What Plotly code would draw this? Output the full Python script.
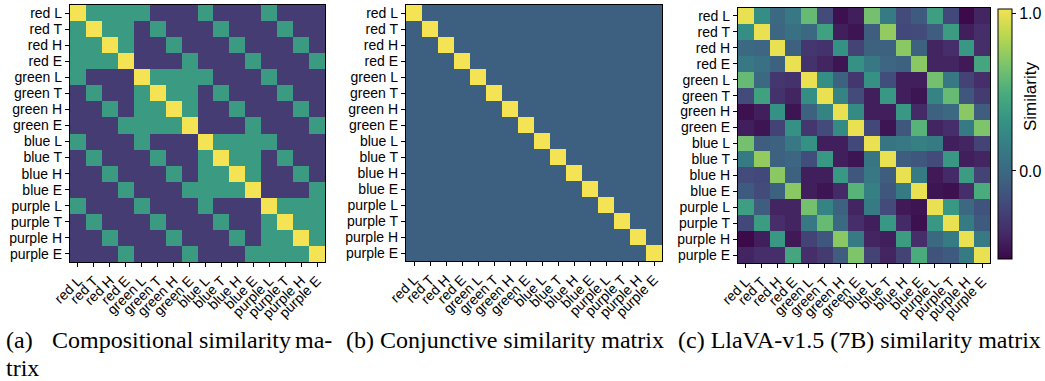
import plotly.graph_objects as go
from plotly.colors import sequential, hex_to_rgb

labels = [
    "red L", "red T", "red H", "red E",
    "green L", "green T", "green H", "green E",
    "blue L", "blue T", "blue H", "blue E",
    "purple L", "purple T", "purple H", "purple E",
]
colors = ["red", "green", "blue", "purple"]
attrs = ["L", "T", "H", "E"]

# similarity levels used by the two idealised matrices
same_item = 1.0
shared_part = 1 / 3
no_overlap = -1 / 3
conj_off = 0.0

# LlaVA-v1.5 (7B) measured similarities (rows/cols follow `labels`)
llava = [
    [1.00, 0.28, 0.00, 0.12, 0.60, -0.20, -0.52, -0.45, 0.65, 0.15, -0.20, -0.10, 0.40, -0.22, -0.55, -0.42],
    [0.28, 1.00, -0.02, 0.06, 0.00, 0.42, -0.45, -0.50, -0.08, 0.75, -0.22, -0.20, -0.08, 0.38, -0.45, -0.38],
    [0.00, -0.02, 1.00, -0.05, -0.33, -0.35, 0.30, -0.25, -0.05, -0.05, 0.72, -0.05, -0.42, -0.38, 0.35, -0.38],
    [0.12, 0.06, -0.05, 1.00, -0.35, -0.42, -0.50, 0.30, 0.12, -0.02, -0.05, 0.72, -0.42, -0.42, -0.48, 0.45],
    [0.60, 0.00, -0.33, -0.35, 1.00, 0.28, -0.05, -0.33, 0.30, -0.18, -0.45, -0.45, 0.65, 0.12, -0.25, -0.38],
    [-0.20, 0.42, -0.35, -0.42, 0.28, 1.00, 0.20, -0.20, -0.45, 0.35, -0.45, -0.50, 0.20, 0.60, -0.12, -0.30],
    [-0.52, -0.45, 0.30, -0.50, -0.05, 0.20, 1.00, 0.25, -0.45, -0.45, 0.35, -0.40, -0.05, 0.00, 0.72, -0.08],
    [-0.45, -0.50, -0.25, 0.30, -0.33, -0.20, 0.25, 1.00, -0.22, -0.50, -0.12, 0.55, -0.42, -0.38, 0.15, 0.68],
    [0.65, -0.08, -0.05, 0.12, 0.30, -0.45, -0.45, -0.22, 1.00, 0.10, 0.12, 0.18, 0.15, -0.45, -0.42, -0.25],
    [0.15, 0.75, -0.05, -0.02, -0.18, 0.35, -0.45, -0.50, 0.10, 1.00, -0.08, -0.12, -0.20, 0.35, -0.45, -0.42],
    [-0.20, -0.22, 0.72, -0.05, -0.45, -0.45, 0.35, -0.12, 0.12, -0.08, 1.00, 0.15, -0.48, -0.40, 0.38, -0.25],
    [-0.10, -0.20, -0.05, 0.72, -0.45, -0.50, -0.40, 0.55, 0.18, -0.12, 0.15, 1.00, -0.50, -0.52, -0.38, 0.50],
    [0.40, -0.08, -0.42, -0.42, 0.65, 0.20, -0.05, -0.42, 0.15, -0.20, -0.48, -0.50, 1.00, 0.35, 0.00, -0.15],
    [-0.22, 0.38, -0.38, -0.42, 0.12, 0.60, 0.00, -0.38, -0.45, 0.35, -0.40, -0.52, 0.35, 1.00, 0.15, -0.10],
    [-0.55, -0.45, 0.35, -0.48, -0.25, -0.12, 0.72, 0.15, -0.42, -0.45, 0.38, -0.38, 0.00, 0.15, 1.00, 0.15],
    [-0.42, -0.38, -0.38, 0.45, -0.38, -0.30, -0.08, 0.68, -0.25, -0.42, -0.25, 0.50, -0.15, -0.10, 0.15, 1.00],
]

caption_a_words = ["(a)", "Compositional", "similarity", "ma-"]
caption_a_tail = "trix"
caption_b = "(b) Conjunctive similarity matrix"
caption_c = "(c) LlaVA-v1.5 (7B) similarity matrix"
colorbar_title = "Similarity"

# colour limits per panel
ranges = [(-0.6, 1.0), (-0.45, 1.0), (-0.56, 1.03)]

# build the idealised matrices from the colour/attribute structure
items = [(c, a) for c in colors for a in attrs]
comp, conj = [], []
for ci, ai in items:
    row_c, row_j = [], []
    for cj, aj in items:
        if (ci, ai) == (cj, aj):
            row_c.append(same_item)
            row_j.append(same_item)
        elif ci == cj or ai == aj:
            row_c.append(shared_part)
            row_j.append(conj_off)
        else:
            row_c.append(no_overlap)
            row_j.append(conj_off)
    comp.append(row_c)
    conj.append(row_j)


# slightly muted viridis
def muted(hex_color, k=0.25):
    r, g, b = hex_to_rgb(hex_color)
    lum = 0.3 * r + 0.59 * g + 0.11 * b
    r, g, b = (round(c * (1 - k) + lum * k) for c in (r, g, b))
    return f"rgb({r},{g},{b})"


vir = sequential.Viridis
cscale = [[i / (len(vir) - 1), muted(c)] for i, c in enumerate(vir)]

W, H = 1045, 381


def px(x):
    return x / W


def py(y):
    return 1 - y / H


domains = [
    ((70, 325), (5, 262)),
    ((406, 662), (5, 261)),
    ((738, 990), (8, 263)),
]

fig = go.Figure()
mats = [comp, conj, llava]
for i, (m, ((x0, x1), (y0, y1)), (lo, hi)) in enumerate(zip(mats, domains, ranges)):
    n = "" if i == 0 else str(i + 1)
    show = i == 2
    fig.add_trace(go.Heatmap(
        z=m, x=labels, y=labels,
        xaxis="x" + n, yaxis="y" + n,
        colorscale=cscale, zmin=lo, zmax=hi,
        showscale=show,
        colorbar=dict(
            x=px(998), xanchor="left", xpad=0,
            y=py(9), yanchor="top", ypad=0,
            len=(259 - 9) / H, lenmode="fraction",
            thickness=14, thicknessmode="pixels",
            outlinewidth=1, outlinecolor="black",
            tickvals=[0.0, 1.0], ticktext=["0.0", "1.0"],
            ticks="outside", ticklen=4, tickcolor="black",
            tickfont=dict(family="Liberation Sans", size=16, color="black"),
        ) if show else None,
    ))
    axis_common = dict(
        showline=True, linecolor="black", linewidth=1.3, mirror=True,
        ticks="outside", ticklen=4, tickcolor="black", tickwidth=1,
        tickfont=dict(family="Liberation Sans", size=14, color="black"),
        showgrid=False, zeroline=False, type="category",
        tickmode="array", tickvals=labels, ticktext=labels,
        automargin=False,
    )
    fig.update_layout(**{
        "xaxis" + n: dict(domain=[px(x0), px(x1)], anchor="y" + n,
                          tickangle=-45, **axis_common),
        "yaxis" + n: dict(domain=[py(y1), py(y0)], anchor="x" + n,
                          autorange="reversed", **axis_common),
    })

fig.add_annotation(
    text=colorbar_title, textangle=-90, xref="paper", yref="paper",
    x=px(1030), y=py(97), xanchor="center", yanchor="middle", showarrow=False,
    font=dict(family="Liberation Sans", size=17, color="black"),
)

serif = dict(family="Liberation Serif", size=24, color="black")
for word, wx in zip(caption_a_words, [4, 50, 197, 293]):
    fig.add_annotation(text=word, xref="paper", yref="paper", x=px(wx), y=py(340),
                       xanchor="left", yanchor="middle", showarrow=False, font=serif)
fig.add_annotation(text=caption_a_tail, xref="paper", yref="paper", x=px(4), y=py(368),
                   xanchor="left", yanchor="middle", showarrow=False, font=serif)
for txt, cx in [(caption_b, 344), (caption_c, 676)]:
    fig.add_annotation(text=txt, xref="paper", yref="paper", x=px(cx), y=py(340),
                       xanchor="left", yanchor="middle", showarrow=False, font=serif)

fig.update_layout(
    width=W, height=H, margin=dict(l=0, r=0, t=0, b=0),
    paper_bgcolor="white", plot_bgcolor="white", showlegend=False,
)
fig.write_html("out.html")
